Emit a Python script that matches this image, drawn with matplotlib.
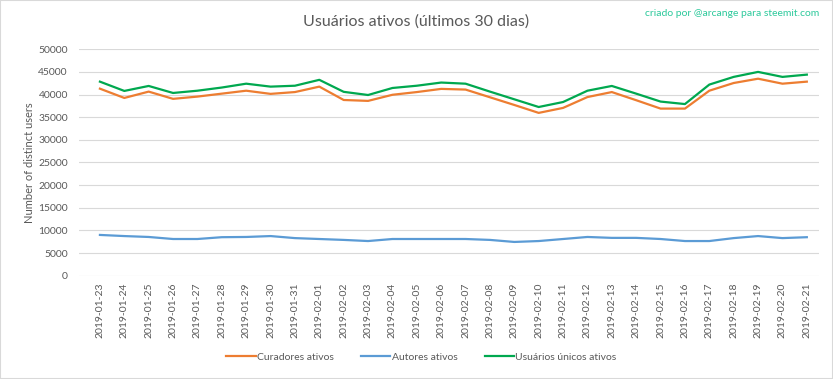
import pandas as pd
import matplotlib
matplotlib.use("Agg")
import matplotlib.pyplot as plt
from matplotlib.patches import Rectangle

# Daily active users
dates = pd.date_range("2019-01-23", "2019-02-21").strftime("%Y-%m-%d").tolist()

curadores = [41300, 39250, 40650, 39050, 39550, 40200, 40850, 40150, 40550, 41750,
             38800, 38600, 39950, 40550, 41250, 41100, 39400, 37700, 35950, 37050,
             39450, 40550, 38750, 36900, 36900, 40850, 42550, 43500, 42400, 42850]
autores = [9000, 8750, 8550, 8100, 8100, 8500, 8550, 8750, 8300, 8100,
           7900, 7650, 8100, 8100, 8100, 8100, 7900, 7450, 7650, 8100,
           8550, 8350, 8350, 8100, 7650, 7650, 8300, 8750, 8300, 8500]
unicos = [42850, 40800, 41900, 40350, 40850, 41550, 42400, 41750, 41950, 43250,
          40600, 39900, 41450, 41950, 42650, 42400, 40650, 38950, 37250, 38350,
          40850, 41900, 40200, 38450, 37900, 42200, 43900, 45000, 43900, 44400]

yticks = list(range(0, 50001, 5000))

plt.rcParams['font.family'] = ['Lato', 'DejaVu Sans']
TXT = '#595959'

fig = plt.figure(figsize=(8.33, 3.79), dpi=100)
ax = fig.add_axes([0.0948, 0.2726, 0.8884, 0.5974])

x = range(len(dates))
ax.plot(x, curadores, color='#ED7D31', linewidth=1.6, label='Curadores ativos')
ax.plot(x, autores, color='#5B9BD5', linewidth=1.6, label='Autores ativos')
ax.plot(x, unicos, color='#00A84F', linewidth=1.6, label='Usuários únicos ativos')

ax.set_xlim(-0.86, 29.5)
ax.set_ylim(0, 50000)
ax.set_yticks(yticks)
ax.set_yticklabels([str(v) for v in yticks])
ax.set_xticks(list(x))
ax.set_xticklabels(dates, rotation=90)
ax.tick_params(axis='both', length=0, colors=TXT, labelsize=7.5)
ax.tick_params(axis='y', pad=8)
ax.tick_params(axis='x', pad=5)
ax.grid(axis='y', color='#D9D9D9', linewidth=0.8)
ax.set_axisbelow(True)
for s in ax.spines.values():
    s.set_visible(False)

ax.set_ylabel("Number of distinct users", color=TXT, fontsize=8, labelpad=2)

fig.text(0.5, 0.942, "Usuários ativos (últimos 30 dias)", ha='center', va='center',
         fontsize=11.5, color=TXT)
fig.text(0.984, 0.965, "criado por @arcange para steemit.com", ha='right', va='center',
         fontsize=7.5, color='#2CC99B')

fig.legend(loc='center', bbox_to_anchor=(0.506, 0.058), ncol=3, frameon=False,
           fontsize=7.5, labelcolor=TXT, handlelength=2.8, handletextpad=0.15,
           columnspacing=2.6)

fig.patches.append(Rectangle((0, 0), 1, 1, transform=fig.transFigure, fill=False,
                             edgecolor='#D9D9D9', linewidth=1.5))

fig.savefig("out.png", dpi=100)
